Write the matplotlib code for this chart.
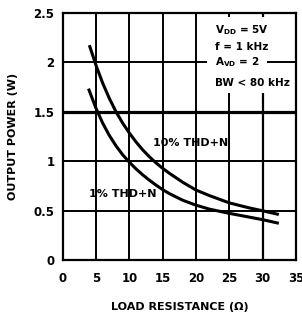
import matplotlib
matplotlib.use("Agg")
import matplotlib.pyplot as plt
from matplotlib.patches import Rectangle

# Data
r_10 = [4.07, 5, 6, 7, 8, 9, 10, 11, 12, 13, 14, 15, 16, 18, 20, 22, 25, 28, 30, 32.2]
p_10 = [2.16, 1.97, 1.79, 1.635, 1.50, 1.385, 1.285, 1.195, 1.115, 1.045, 0.983, 0.928,
        0.878, 0.787, 0.708, 0.652, 0.578, 0.527, 0.498, 0.464]
r_1 = [3.95, 5, 6, 7, 8, 9, 10, 11, 12, 13, 14, 15, 16, 18, 20, 22, 25, 28, 30, 32.2]
p_1 = [1.72, 1.535, 1.385, 1.26, 1.155, 1.065, 0.99, 0.922, 0.862, 0.808, 0.758, 0.712,
       0.672, 0.605, 0.555, 0.515, 0.472, 0.434, 0.408, 0.375]
x_ticks = [0, 5, 10, 15, 20, 25, 30, 35]
y_ticks = [0, 0.5, 1, 1.5, 2, 2.5]
y_tick_labels = ["0", "0.5", "1", "1.5", "2", "2.5"]
cond_lines = [r"V$_{\mathregular{DD}}$ = 5V", "f = 1 kHz", r"A$_{\mathregular{VD}}$ = 2", "BW < 80 kHz"]

plt.rcParams['font.family'] = ['DejaVu Sans']
plt.rcParams['font.weight'] = 'bold'
plt.rcParams['mathtext.default'] = 'regular'

W, H = 302, 316
fig = plt.figure(figsize=(W/100, H/100), dpi=100)
ax = fig.add_axes([62.7/W, 1-260/H, (296-62.7)/W, (260-13)/H])
ax.set_xlim(0, 35)
ax.set_ylim(0, 2.5)
ax.set_xticks(x_ticks)
ax.set_yticks(y_ticks)
ax.set_yticklabels(y_tick_labels)
ax.tick_params(length=0, labelsize=8.5)
ax.tick_params(axis='x', pad=9)
ax.tick_params(axis='y', pad=6)
for lab in ax.get_xticklabels() + ax.get_yticklabels():
    lab.set_fontweight('bold')

for x in x_ticks[1:-1]:
    ax.axvline(x, color='black', lw=1.6 if x == 30 else 1.4, zorder=1)
for y in y_ticks[1:-1]:
    ax.axhline(y, color='black', lw=2.3 if y == 1.5 else 1.4, zorder=1)
for s in ax.spines.values():
    s.set_linewidth(1.6)

ax.plot(r_10, p_10, color='black', lw=2.2, zorder=3, solid_joinstyle='round')
ax.plot(r_1, p_1, color='black', lw=2.2, zorder=3, solid_joinstyle='round')

ax.text(13.5, 1.18, "10% THD+N", fontsize=8, fontweight='bold', va='center', ha='left', zorder=4)
ax.text(4.0, 0.67, "1% THD+N", fontsize=8, fontweight='bold', va='center', ha='left', zorder=4)

ax.add_patch(Rectangle((21.7, 1.69), 8.9, 0.77, facecolor='white', edgecolor='none', zorder=2))
ys = [2.33, 2.16, 2.0, 1.79]
for t, yy in zip(cond_lines, ys):
    ax.text(22.9, yy, t, fontsize=7.5, fontweight='bold', va='center', ha='left', zorder=4,
            bbox=dict(facecolor='white', edgecolor='none', pad=0.3))

ax.set_xlabel("LOAD RESISTANCE (Ω)", fontsize=8, fontweight='bold', labelpad=12)
ax.set_ylabel("OUTPUT POWER (W)", fontsize=8, fontweight='bold', labelpad=11)

fig.savefig("out.png", dpi=100)
